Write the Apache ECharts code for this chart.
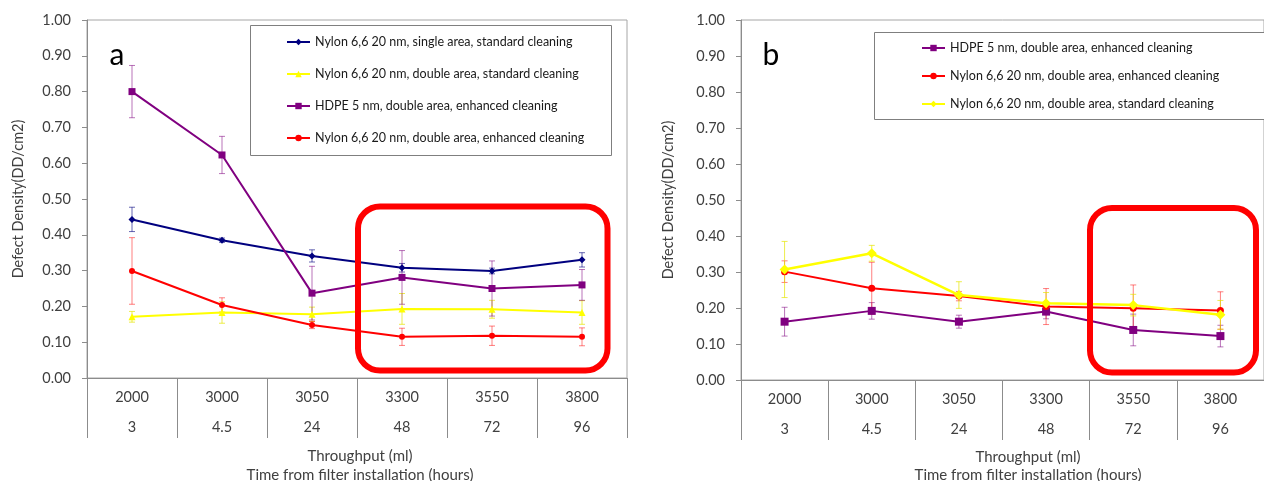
<!DOCTYPE html>
<html>
<head>
<meta charset="utf-8">
<script src="https://cdn.jsdelivr.net/npm/echarts@6/dist/echarts.min.js"></script>
<style>
html,body{margin:0;padding:0;background:#fff;}
#chart{width:1264px;height:481px;}
</style>
</head>
<body>
<div id="chart"></div>
<script>
// ---- data ----
const throughput = ['2000', '3000', '3050', '3300', '3550', '3800'];
const hours = ['3', '4.5', '24', '48', '72', '96'];
const yTicks = [0, 0.1, 0.2, 0.3, 0.4, 0.5, 0.6, 0.7, 0.8, 0.9, 1.0];

const nameSingleStd = 'Nylon 6,6 20 nm, single area, standard cleaning';
const nameDoubleStd = 'Nylon 6,6 20 nm, double area, standard cleaning';
const nameHdpe = 'HDPE 5 nm, double area, enhanced cleaning';
const nameDoubleEnh = 'Nylon 6,6 20 nm, double area, enhanced cleaning';

// chart a
const aSingleStd = [0.443, 0.385, 0.341, 0.308, 0.299, 0.330];
const aSingleStdErr = [0.034, 0.006, 0.017, 0.012, 0.008, 0.020];
const aDoubleStd = [0.171, 0.183, 0.178, 0.193, 0.192, 0.183];
const aDoubleStdErr = [0.015, 0.030, 0.020, 0.043, 0.025, 0.033];
const aHdpe = [0.800, 0.623, 0.237, 0.281, 0.250, 0.260];
const aHdpeErr = [0.073, 0.052, 0.075, 0.075, 0.077, 0.043];
const aDoubleEnh = [0.299, 0.204, 0.148, 0.115, 0.118, 0.115];
const aDoubleEnhErr = [0.093, 0.020, 0.010, 0.024, 0.027, 0.025];

// chart b
const bHdpe = [0.162, 0.192, 0.162, 0.190, 0.139, 0.122];
const bHdpeErr = [0.040, 0.023, 0.018, 0.020, 0.044, 0.030];
const bDoubleEnh = [0.301, 0.255, 0.233, 0.204, 0.199, 0.193];
const bDoubleEnhErr = [0.030, 0.072, 0.013, 0.050, 0.065, 0.052];
const bDoubleStd = [0.307, 0.352, 0.236, 0.213, 0.208, 0.181];
const bDoubleStdErr = [0.078, 0.022, 0.037, 0.030, 0.030, 0.040];

// ---- styles ----
const FONT = 'Lato';
const C_BLUE = '#00007f', C_YEL = '#ffff00', C_PUR = '#800080', C_RED = '#ff0000';
const C_BLUE_E = 'rgba(0,0,127,0.6)', C_YEL_E = 'rgba(230,230,0,0.7)', C_PUR_E = 'rgba(128,0,128,0.55)', C_RED_E = 'rgba(255,0,0,0.5)';
const AXIS_C = '#8c8c8c';
const TXT_C = '#404040';

function errRender(color) {
  return function (params, api) {
    const x = api.value(0), v = api.value(1), e = api.value(2);
    const top = api.coord([x, v + e]);
    const bot = api.coord([x, v - e]);
    const hw = 3;
    const st = { stroke: color, lineWidth: 1 };
    return {
      type: 'group',
      children: [
        { type: 'line', shape: { x1: top[0], y1: top[1], x2: bot[0], y2: bot[1] }, style: st },
        { type: 'line', shape: { x1: top[0] - hw, y1: top[1], x2: top[0] + hw, y2: top[1] }, style: st },
        { type: 'line', shape: { x1: bot[0] - hw, y1: bot[1], x2: bot[0] + hw, y2: bot[1] }, style: st }
      ]
    };
  };
}

function errSeries(idx, vals, errs, color) {
  return {
    type: 'custom',
    xAxisIndex: idx, yAxisIndex: idx,
    renderItem: errRender(color),
    data: vals.map((v, i) => [i, v, errs[i]]),
    encode: { x: 0, y: 1 },
    z: 1, silent: true
  };
}

function lineSeries(idx, name, vals, color, symbol, size, width) {
  return {
    type: 'line', name: name,
    xAxisIndex: idx, yAxisIndex: idx,
    data: vals,
    symbol: symbol, symbolSize: size,
    lineStyle: { color: color, width: width },
    itemStyle: { color: color },
    z: 3
  };
}

function xAxisOf(idx) {
  return {
    type: 'category', gridIndex: idx, data: throughput,
    boundaryGap: true,
    axisLine: { lineStyle: { color: AXIS_C } },
    axisTick: { show: true, interval: 0, length: 60, alignWithLabel: false, lineStyle: { color: AXIS_C } },
    axisLabel: {
      interval: 0, margin: 4, color: TXT_C, fontFamily: FONT, fontSize: 14.5, lineHeight: 30,
      formatter: (v, i) => v + '\n' + hours[i]
    },
    splitLine: { show: false }
  };
}

function yAxisOf(idx, gap) {
  return {
    type: 'value', gridIndex: idx, min: yTicks[0], max: yTicks[yTicks.length - 1], interval: 0.1,
    name: 'Defect Density(DD/cm2)', nameLocation: 'middle', nameGap: gap,
    nameTextStyle: { color: TXT_C, fontFamily: FONT, fontSize: 14.5 },
    axisLine: { show: true, lineStyle: { color: AXIS_C } },
    axisTick: { show: true, inside: false, length: 5, lineStyle: { color: AXIS_C } },
    axisLabel: { color: TXT_C, fontFamily: FONT, fontSize: 14.5, margin: 16, formatter: v => v.toFixed(2) },
    splitLine: { show: false }
  };
}

const aName = n => 'a|' + n, bName = n => 'b|' + n;

const option = {
  backgroundColor: '#fff',
  animation: false,
  grid: [
    { left: 87, top: 20, width: 540, height: 358, show: true, borderColor: '#a6a6a6', borderWidth: 1, backgroundColor: 'transparent' },
    { left: 741, top: 20, width: 540, height: 360, show: true, borderColor: '#a6a6a6', borderWidth: 1, backgroundColor: 'transparent' }
  ],
  xAxis: [xAxisOf(0), xAxisOf(1)],
  yAxis: [yAxisOf(0, 61), yAxisOf(1, 65)],
  legend: [
    {
      orient: 'vertical', left: 286, top: 35, itemGap: 18, itemWidth: 23, itemHeight: 8,
      padding: 0, selectedMode: false, z: 20,
      textStyle: { fontFamily: FONT, fontSize: 12.5, color: '#1a1a1a', lineHeight: 14 },
      formatter: n => n.split('|')[1],
      data: [aName(nameSingleStd), aName(nameDoubleStd), aName(nameHdpe), aName(nameDoubleEnh)]
    },
    {
      orient: 'vertical', left: 921, top: 41, itemGap: 14, itemWidth: 23, itemHeight: 8,
      padding: 0, selectedMode: false, z: 20,
      textStyle: { fontFamily: FONT, fontSize: 12.5, color: '#1a1a1a', lineHeight: 14 },
      formatter: n => n.split('|')[1],
      data: [bName(nameHdpe), bName(nameDoubleEnh), bName(nameDoubleStd)]
    }
  ],
  series: [
    errSeries(0, aSingleStd, aSingleStdErr, C_BLUE_E),
    errSeries(0, aDoubleStd, aDoubleStdErr, C_YEL_E),
    errSeries(0, aHdpe, aHdpeErr, C_PUR_E),
    errSeries(0, aDoubleEnh, aDoubleEnhErr, C_RED_E),
    lineSeries(0, aName(nameSingleStd), aSingleStd, C_BLUE, 'diamond', 7, 2),
    lineSeries(0, aName(nameDoubleStd), aDoubleStd, C_YEL, 'triangle', 7, 2),
    lineSeries(0, aName(nameHdpe), aHdpe, C_PUR, 'rect', 7, 2),
    lineSeries(0, aName(nameDoubleEnh), aDoubleEnh, C_RED, 'circle', 6, 2),
    errSeries(1, bHdpe, bHdpeErr, C_PUR_E),
    errSeries(1, bDoubleEnh, bDoubleEnhErr, C_RED_E),
    errSeries(1, bDoubleStd, bDoubleStdErr, C_YEL_E),
    lineSeries(1, bName(nameHdpe), bHdpe, C_PUR, 'rect', 8, 2),
    lineSeries(1, bName(nameDoubleEnh), bDoubleEnh, C_RED, 'circle', 7, 2),
    lineSeries(1, bName(nameDoubleStd), bDoubleStd, C_YEL, 'diamond', 10, 2.5)
  ],
  graphic: [
    // legend frames
    { type: 'rect', shape: { x: 250.5, y: 25.5, width: 361, height: 130 }, style: { fill: '#fff', stroke: '#7f7f7f', lineWidth: 1 }, z: 2 },
    { type: 'rect', shape: { x: 874.5, y: 32.5, width: 420, height: 87 }, style: { fill: '#fff', stroke: '#7f7f7f', lineWidth: 1 }, z: 2 },
    // panel labels
    { type: 'text', x: 117, y: 55, style: { text: 'a', fontFamily: FONT, fontSize: 30, fill: '#000', align: 'center', verticalAlign: 'middle' }, z: 10 },
    { type: 'text', x: 771, y: 55, style: { text: 'b', fontFamily: FONT, fontSize: 30, fill: '#000', align: 'center', verticalAlign: 'middle' }, z: 10 },
    // highlight frames
    { type: 'rect', shape: { x: 358, y: 206.5, width: 249.5, height: 164, r: 22 }, style: { fill: 'none', stroke: '#ff0000', lineWidth: 6 }, z: 10 },
    { type: 'rect', shape: { x: 1090, y: 208, width: 166, height: 164.5, r: 22 }, style: { fill: 'none', stroke: '#ff0000', lineWidth: 6 }, z: 10 },
    // x axis titles
    { type: 'text', x: 360, y: 456, style: { text: 'Throughput (ml)', fontFamily: FONT, fontSize: 15, fill: TXT_C, align: 'center', verticalAlign: 'middle' } },
    { type: 'text', x: 360, y: 475, style: { text: 'Time from filter installation (hours)', fontFamily: FONT, fontSize: 15, fill: TXT_C, align: 'center', verticalAlign: 'middle' } },
    { type: 'text', x: 1028, y: 457, style: { text: 'Throughput (ml)', fontFamily: FONT, fontSize: 15, fill: TXT_C, align: 'center', verticalAlign: 'middle' } },
    { type: 'text', x: 1028, y: 475, style: { text: 'Time from filter installation (hours)', fontFamily: FONT, fontSize: 15, fill: TXT_C, align: 'center', verticalAlign: 'middle' } }
  ]
};

const chart = echarts.init(document.getElementById('chart'), null, { renderer: 'canvas' });
chart.setOption(option);
</script>
</body>
</html>
